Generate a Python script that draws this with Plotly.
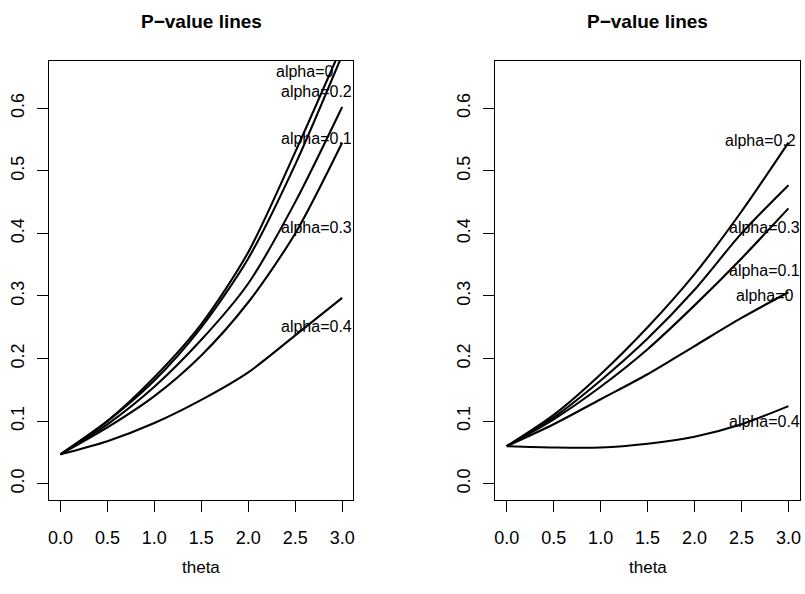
import plotly.graph_objects as go

theta = [0.0, 0.5, 1.0, 1.5, 2.0, 2.5, 3.0]

# Left panel p-values
left_a0 = [0.047, 0.100, 0.170, 0.255, 0.370, 0.530, 0.700]
left_a02 = [0.047, 0.100, 0.165, 0.250, 0.360, 0.510, 0.685]
left_a01 = [0.047, 0.095, 0.155, 0.230, 0.320, 0.450, 0.602]
left_a03 = [0.047, 0.090, 0.140, 0.205, 0.290, 0.400, 0.545]
left_a04 = [0.047, 0.068, 0.097, 0.134, 0.178, 0.237, 0.297]

# Right panel p-values
right_a02 = [0.060, 0.110, 0.175, 0.250, 0.335, 0.435, 0.545]
right_a03 = [0.060, 0.106, 0.165, 0.232, 0.310, 0.400, 0.477]
right_a01 = [0.060, 0.103, 0.155, 0.215, 0.285, 0.360, 0.440]
right_a0 = [0.060, 0.095, 0.135, 0.175, 0.220, 0.265, 0.306]
right_a04 = [0.060, 0.058, 0.058, 0.064, 0.075, 0.095, 0.124]

left_series = [left_a0, left_a02, left_a01, left_a03, left_a04]
right_series = [right_a02, right_a03, right_a01, right_a0, right_a04]

# labels: (text, x, y)
left_labels = [("alpha=0", 2.60, 0.658), ("alpha=0.2", 2.73, 0.626),
               ("alpha=0.1", 2.73, 0.552), ("alpha=0.3", 2.73, 0.410),
               ("alpha=0.4", 2.73, 0.251)]
right_labels = [("alpha=0.2", 2.70, 0.548), ("alpha=0.3", 2.74, 0.410),
                ("alpha=0.1", 2.74, 0.340), ("alpha=0", 2.75, 0.300),
                ("alpha=0.4", 2.74, 0.099)]

x_ticks = [0.0, 0.5, 1.0, 1.5, 2.0, 2.5, 3.0]
x_ticktext = ["0.0", "0.5", "1.0", "1.5", "2.0", "2.5", "3.0"]
y_ticks = [0.0, 0.1, 0.2, 0.3, 0.4, 0.5, 0.6]
y_ticktext = ["0.0", "0.1", "0.2", "0.3", "0.4", "0.5", "0.6"]

FONT = "Liberation Sans, Arial, Helvetica, sans-serif"
W, H = 805, 594

fig = go.Figure()
for ys in left_series:
    fig.add_trace(go.Scatter(x=theta, y=ys, mode="lines", xaxis="x", yaxis="y",
                             line=dict(color="black", width=2.1, shape="spline", smoothing=0.8),
                             showlegend=False, hoverinfo="skip"))
for ys in right_series:
    fig.add_trace(go.Scatter(x=theta, y=ys, mode="lines", xaxis="x2", yaxis="y2",
                             line=dict(color="black", width=2.1, shape="spline", smoothing=0.8),
                             showlegend=False, hoverinfo="skip"))

L0, L1 = 48.3 / W, 353.3 / W
R0, R1 = 495.7 / W, 800.7 / W
Y0, Y1 = 1 - 500 / H, 1 - 60.7 / H

axis_common = dict(showgrid=False, zeroline=False, showline=True, mirror=True,
                   linecolor="black", linewidth=1, ticks="outside", ticklen=11,
                   tickwidth=1, tickcolor="black",
                   tickfont=dict(family=FONT, size=18, color="black"))

fig.update_layout(
    width=W, height=H, margin=dict(l=0, r=0, t=0, b=0),
    paper_bgcolor="white", plot_bgcolor="white",
    xaxis=dict(domain=[L0, L1], range=[-0.12, 3.12], tickvals=x_ticks, ticktext=x_ticktext,
               anchor="y", ticklabelstandoff=10, **axis_common),
    yaxis=dict(domain=[Y0, Y1], range=[-0.026, 0.676], tickvals=y_ticks, ticktext=y_ticktext,
               anchor="x", tickangle=-90, ticklabelstandoff=6, **axis_common),
    xaxis2=dict(domain=[R0, R1], range=[-0.12, 3.12], tickvals=x_ticks, ticktext=x_ticktext,
                anchor="y2", ticklabelstandoff=10, **axis_common),
    yaxis2=dict(domain=[Y0, Y1], range=[-0.026, 0.676], tickvals=y_ticks, ticktext=y_ticktext,
                anchor="x2", tickangle=-90, ticklabelstandoff=6, **axis_common),
)

ann = []
for (cx0, cx1) in [(L0, L1), (R0, R1)]:
    cx = (cx0 + cx1) / 2
    ann.append(dict(text="<b>P\u2212value lines</b>", x=cx, y=1 - 21 / H, xref="paper", yref="paper",
                    xanchor="center", yanchor="middle", showarrow=False,
                    font=dict(family=FONT, size=19, color="black")))
    ann.append(dict(text="theta", x=cx, y=1 - 567 / H, xref="paper", yref="paper",
                    xanchor="center", yanchor="middle", showarrow=False,
                    font=dict(family=FONT, size=17, color="black")))
for (t, x, y) in left_labels:
    ann.append(dict(text=t, x=x, y=y, xref="x", yref="y", xanchor="center", yanchor="middle",
                    showarrow=False, font=dict(family=FONT, size=16, color="black")))
for (t, x, y) in right_labels:
    ann.append(dict(text=t, x=x, y=y, xref="x2", yref="y2", xanchor="center", yanchor="middle",
                    showarrow=False, font=dict(family=FONT, size=16, color="black")))
fig.update_layout(annotations=ann)

fig.write_html("out.html")
